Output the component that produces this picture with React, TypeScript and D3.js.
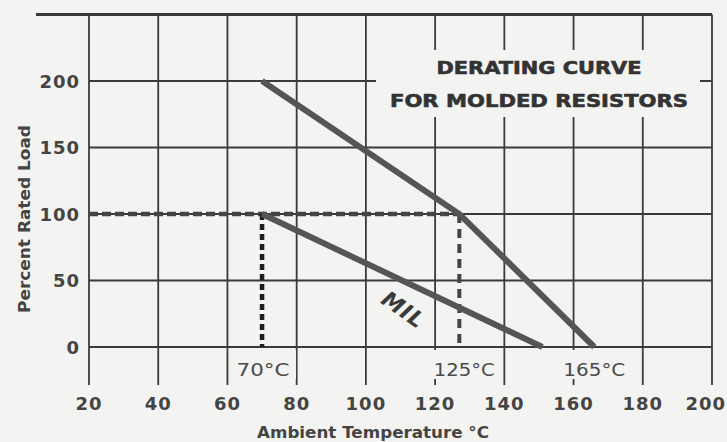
import React from 'react';
import * as d3 from 'd3';

// values
const xTicks = [20, 40, 60, 80, 100, 120, 140, 160, 180, 200];
const yTicks = [0, 50, 100, 150, 200];
const ratedCurve = [
  { t: 70, p: 200 },
  { t: 127, p: 100 },
  { t: 166, p: 0 },
];
const milCurve = [
  { t: 70, p: 100 },
  { t: 151, p: 0 },
];
const fullLoadLine = [
  { t: 20, p: 100 },
  { t: 127, p: 100 },
];
const milKnee = [
  { t: 70, p: 100 },
  { t: 70, p: 0 },
];
const ratedKnee = [
  { t: 127, p: 100 },
  { t: 127, p: 0 },
];
const markers = [
  { t: 70, label: '70°C', dx: 1, w: 53 },
  { t: 127, label: '125°C', dx: 5, w: 61 },
  { t: 166, label: '165°C', dx: 0, w: 62 },
];
const titleLines = ['DERATING CURVE', 'FOR MOLDED RESISTORS'];

const W = 727;
const H = 442;
const ink = '#3a3a3a';
const font = '"DejaVu Sans", sans-serif';

export default function App() {
  const x = d3.scaleLinear().domain([20, 200]).range([89, 712]);
  const y = d3.scaleLinear().domain([0, 250]).range([347, 14.5]);
  const line = d3
    .line<{ t: number; p: number }>()
    .x((d) => x(d.t))
    .y((d) => y(d.p));

  const gridBottom = 385;
  const lastTick = xTicks[xTicks.length - 1];

  return (
    <svg
      width={W}
      height={H}
      style={{ position: 'fixed', left: 0, top: 0 }}
      fontFamily={font}
    >
      <rect width={W} height={H} fill="#f3f3f1" />

      {/* grid */}
      {xTicks.map((t) => (
        <line
          key={'vx' + t}
          x1={x(t)}
          x2={x(t)}
          y1={y(250)}
          y2={gridBottom}
          stroke={ink}
          strokeWidth={1.8}
        />
      ))}
      {yTicks.map((p) => (
        <line
          key={'hy' + p}
          x1={x(20)}
          x2={x(200)}
          y1={y(p)}
          y2={y(p)}
          stroke={ink}
          strokeWidth={1.8}
        />
      ))}
      <line x1={36} x2={x(200)} y1={y(250)} y2={y(250)} stroke={ink} strokeWidth={3} />

      {/* title box */}
      <rect x={376} y={50} width={324} height={67} fill="#f3f3f1" />
      {titleLines.map((s, i) => (
        <text
          key={s}
          x={539}
          y={74 + i * 33}
          textAnchor="middle"
          fontSize={17}
          fontWeight="bold"
          fill="#333"
          stroke="#333"
          strokeWidth={0.6}
          textLength={i === 0 ? 205 : 298}
          lengthAdjust="spacingAndGlyphs"
        >
          {s}
        </text>
      ))}

      {/* dashed guides */}
      <path
        d={line(fullLoadLine) ?? ''}
        fill="none"
        stroke="#444"
        strokeWidth={4.5}
        strokeDasharray="9,4"
      />
      <path
        d={line(milKnee) ?? ''}
        fill="none"
        stroke="#1e1e1e"
        strokeWidth={4.5}
        strokeDasharray="6,4"
      />
      <path
        d={line(ratedKnee) ?? ''}
        fill="none"
        stroke="#444"
        strokeWidth={4}
        strokeDasharray="9,6"
      />

      {/* curves */}
      <path d={line(ratedCurve) ?? ''} fill="none" stroke="#555" strokeWidth={6} />
      <path d={line(milCurve) ?? ''} fill="none" stroke="#555" strokeWidth={6} />

      {/* MIL label */}
      <text
        transform="translate(399,316) rotate(35)"
        textAnchor="middle"
        fontSize={22}
        fontStyle="italic"
        fontWeight="bold"
        fill="#3a3a3a"
        letterSpacing={1}
      >
        MIL
      </text>

      {/* temperature markers */}
      {markers.map((m) => (
        <g key={m.label}>
          <rect
            x={x(m.t) + m.dx - 33}
            y={350}
            width={66}
            height={29}
            fill="#f3f3f1"
          />
          <text
            x={x(m.t) + m.dx}
            y={376}
            textAnchor="middle"
            fontSize={18}
            fill="#4a4a4a"
            textLength={m.w}
            lengthAdjust="spacingAndGlyphs"
          >
            {m.label}
          </text>
        </g>
      ))}

      {/* tick labels */}
      {xTicks.map((t) => (
        <text
          key={'xl' + t}
          x={t === lastTick ? W - 1 : x(t)}
          y={410}
          textAnchor={t === lastTick ? 'end' : 'middle'}
          fontSize={18}
          fontWeight="bold"
          fill="#444"
          letterSpacing={1}
        >
          {t}
        </text>
      ))}
      {yTicks.map((p) => (
        <text
          key={'yl' + p}
          x={80}
          y={y(p) + 6.5}
          textAnchor="end"
          fontSize={18}
          fontWeight="bold"
          fill="#444"
          letterSpacing={1}
        >
          {p}
        </text>
      ))}

      {/* axis titles */}
      <text
        x={373}
        y={438}
        textAnchor="middle"
        fontSize={16}
        fontWeight="bold"
        fill="#444"
        textLength={232}
        lengthAdjust="spacingAndGlyphs"
      >
        Ambient Temperature °C
      </text>
      <text
        transform="translate(30,219) rotate(-90)"
        textAnchor="middle"
        fontSize={16}
        fontWeight="bold"
        fill="#444"
        textLength={188}
        lengthAdjust="spacingAndGlyphs"
      >
        Percent Rated Load
      </text>
    </svg>
  );
}
